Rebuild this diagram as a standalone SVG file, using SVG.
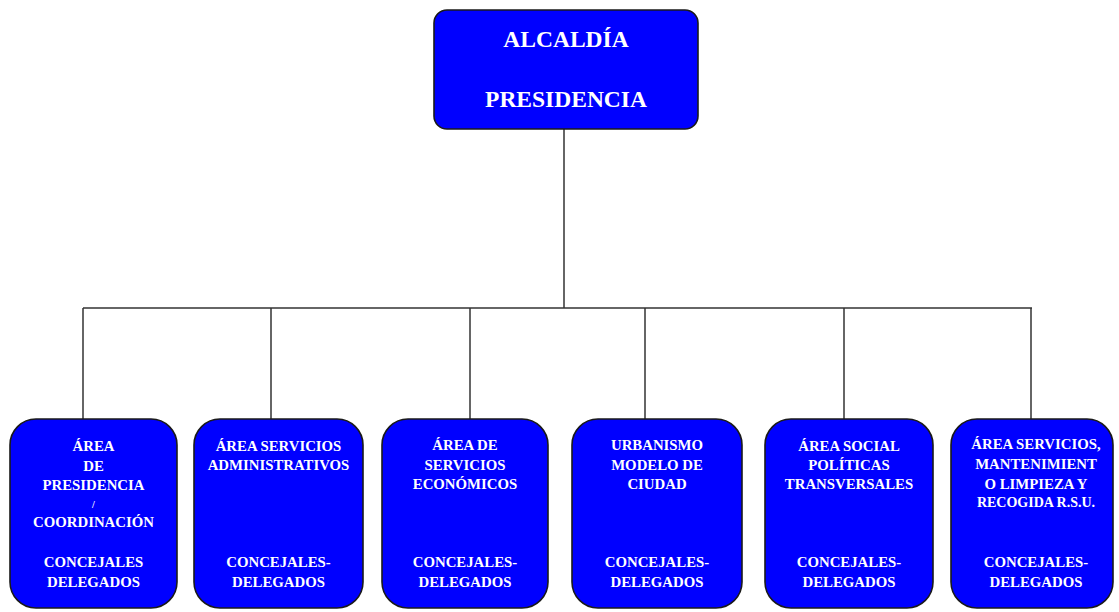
<svg xmlns="http://www.w3.org/2000/svg" width="1119" height="612" viewBox="0 0 1119 612">
<style>
.box{fill:#0000FF;stroke:#1a1a1a;stroke-width:1.6}
.t{font-family:"Liberation Serif","Times New Roman",serif;font-weight:bold;fill:#FFFFFF;text-anchor:middle}
.big{font-size:23.5px}
.sm{font-size:14.8px}
.tiny{font-size:10px}
.con{stroke:#333333;stroke-width:1.5;fill:none}
</style>
<rect width="1119" height="612" fill="#FFFFFF"/>
<g id="connectors">
<line class="con" x1="564" y1="129" x2="564" y2="308"/>
<line class="con" x1="83" y1="308" x2="1032" y2="308"/>
<line class="con" x1="83" y1="308" x2="83" y2="419"/>
<line class="con" x1="271" y1="308" x2="271" y2="419"/>
<line class="con" x1="470" y1="308" x2="470" y2="419"/>
<line class="con" x1="645" y1="308" x2="645" y2="419"/>
<line class="con" x1="844" y1="308" x2="844" y2="419"/>
<line class="con" x1="1031" y1="308" x2="1031" y2="419"/>
</g>
<g id="alcaldia">
<rect class="box" x="434" y="10" width="264" height="119" rx="13"/>
<text class="t big" x="566" y="47">ALCALDÍA</text>
<text class="t big" x="566" y="107">PRESIDENCIA</text>
</g>
<g id="area-presidencia">
<rect class="box" x="10" y="419" width="167" height="189" rx="26"/>
<text class="t sm" x="93.5" y="451">ÁREA</text>
<text class="t sm" x="93.5" y="471">DE</text>
<text class="t sm" x="93.5" y="490">PRESIDENCIA</text>
<text class="t tiny" x="93.5" y="508">/</text>
<text class="t sm" x="93.5" y="527">COORDINACIÓN</text>
<text class="t sm" x="93.5" y="567">CONCEJALES</text>
<text class="t sm" x="93.5" y="587">DELEGADOS</text>
</g>
<g id="area-administrativos">
<rect class="box" x="194" y="419" width="169" height="189" rx="26"/>
<text class="t sm" x="278.5" y="451">ÁREA SERVICIOS</text>
<text class="t sm" x="278.5" y="470">ADMINISTRATIVOS</text>
<text class="t sm" x="278.5" y="567">CONCEJALES-</text>
<text class="t sm" x="278.5" y="587">DELEGADOS</text>
</g>
<g id="area-economicos">
<rect class="box" x="382" y="419" width="166" height="189" rx="26"/>
<text class="t sm" x="465" y="450">ÁREA DE</text>
<text class="t sm" x="465" y="470">SERVICIOS</text>
<text class="t sm" x="465" y="489">ECONÓMICOS</text>
<text class="t sm" x="465" y="567">CONCEJALES-</text>
<text class="t sm" x="465" y="587">DELEGADOS</text>
</g>
<g id="urbanismo">
<rect class="box" x="572" y="419" width="170" height="189" rx="26"/>
<text class="t sm" x="657" y="450">URBANISMO</text>
<text class="t sm" x="657" y="470">MODELO DE</text>
<text class="t sm" x="657" y="489">CIUDAD</text>
<text class="t sm" x="657" y="567">CONCEJALES-</text>
<text class="t sm" x="657" y="587">DELEGADOS</text>
</g>
<g id="area-social">
<rect class="box" x="765" y="419" width="168" height="189" rx="26"/>
<text class="t sm" x="849" y="451">ÁREA SOCIAL</text>
<text class="t sm" x="849" y="470">POLÍTICAS</text>
<text class="t sm" x="849" y="489">TRANSVERSALES</text>
<text class="t sm" x="849" y="567">CONCEJALES-</text>
<text class="t sm" x="849" y="587">DELEGADOS</text>
</g>
<g id="area-servicios-mantenimiento">
<rect class="box" x="951" y="419" width="162" height="189" rx="26"/>
<text class="t sm" x="1036" y="449">ÁREA SERVICIOS,</text>
<text class="t sm" x="1036" y="469">MANTENIMIENT</text>
<text class="t sm" x="1036" y="489">O LIMPIEZA Y</text>
<text class="t" style="font-size:14px" x="1036" y="507">RECOGIDA R.S.U.</text>
<text class="t sm" x="1036" y="567">CONCEJALES-</text>
<text class="t sm" x="1036" y="587">DELEGADOS</text>
</g>
</svg>
